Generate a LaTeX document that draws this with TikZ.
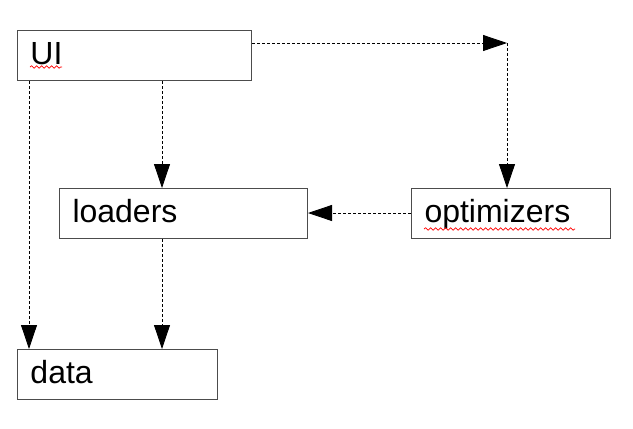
\documentclass[tikz,border=0pt]{standalone}
\usepackage{fontspec}
\setmainfont{Liberation Sans}
\usetikzlibrary{arrows.meta,decorations.pathmorphing}
\begin{document}
\begin{tikzpicture}[x=1pt,y=-1pt,
  box/.style={draw=black!70,line width=1pt,minimum height=50pt,inner sep=0pt,
    text height=22pt,text depth=4pt,align=left,font=\fontsize{32}{36}\selectfont,anchor=north west},
  arr/.style={line width=0.8pt,dash pattern=on 3pt off 2pt,-{Triangle[length=24pt,width=16pt]}},
  squig/.style={red,line width=0.7pt,decorate,decoration={snake,segment length=5pt,amplitude=1.2pt}}]
\useasboundingbox (0,0) rectangle (633,429);
\fill[white] (0,0) rectangle (633,429);
\node[box,minimum width=234pt,text width=208pt] (ui) at (17,30) {UI};
\node[box,minimum width=248pt,text width=222pt] (loaders) at (59,188) {loaders};
\node[box,minimum width=199pt,text width=173pt] (opt) at (411,188) {optimizers};
\node[box,minimum width=200pt,text width=174pt] (data) at (17,349) {data};
\coordinate (c1) at (507,43);
\coordinate (xa) at (162,0);
\coordinate (xb) at (29,0);
\coordinate (ya) at (0,213);
\draw[arr] (ui.east |- c1) -- (c1);
\draw[arr] (c1) -- (c1 |- opt.north);
\draw[arr] (xa |- ui.south) -- (xa |- loaders.north);
\draw[arr] (xb |- ui.south) -- (xb |- data.north);
\draw[arr] (xa |- loaders.south) -- (xa |- data.north);
\draw[arr] (opt.west |- ya) -- (loaders.east |- ya);
\coordinate (s1a) at (30,67);
\coordinate (s1b) at (62,67);
\coordinate (s2a) at (424,229);
\coordinate (s2b) at (575,229);
\draw[squig] (s1a) -- (s1b);
\draw[squig] (s2a) -- (s2b);
\end{tikzpicture}
\end{document}
